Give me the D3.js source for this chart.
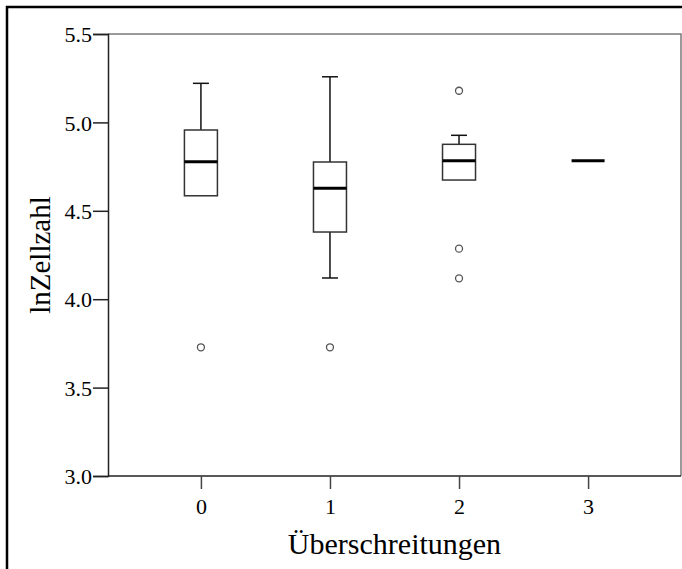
<!DOCTYPE html>
<html>
<head>
<meta charset="utf-8">
<script src="https://cdn.jsdelivr.net/npm/d3@7"></script>
<style>
  body { margin: 0; background: #fff; }
</style>
</head>
<body>
<div id="my_dataviz"></div>
<script>
// categories on the x axis
var groups = ["0", "1", "2", "3"];
// box plot statistics per group
var whiskerLow = [4.585, 4.12, 4.674, 4.783];
var q1 = [4.585, 4.38, 4.674, 4.783];
var median = [4.778, 4.627, 4.783, 4.783];
var q3 = [4.957, 4.776, 4.876, 4.783];
var whiskerHigh = [5.221, 5.258, 4.927, 4.783];
// outliers per group
var outliers = [[3.728], [3.728], [5.179, 4.286, 4.118], []];
var yTicks = [3.0, 3.5, 4.0, 4.5, 5.0, 5.5];

var W = 682, H = 569;
var margin = { left: 108, top: 34, right: 1, bottom: 93 };
var serif = "'Liberation Serif', 'Times New Roman', 'DejaVu Serif', serif";

var svg = d3.select("#my_dataviz").append("svg")
  .attr("width", W).attr("height", H);

// outer frame
svg.append("rect")
  .attr("x", 7).attr("y", 7)
  .attr("width", W).attr("height", H)
  .attr("fill", "none").attr("stroke", "#000").attr("stroke-width", 2.5);

var x = d3.scalePoint().domain(groups)
  .range([margin.left, W - margin.right]).padding(0.72);
var y = d3.scaleLinear().domain([3.0, 5.5])
  .range([H - margin.bottom, margin.top]);

// plot frame (top + right in grey)
svg.append("path")
  .attr("d", "M" + margin.left + "," + y(5.5) + "H" + (W - margin.right) + "V" + y(3.0))
  .attr("fill", "none").attr("stroke", "#7a7a7a").attr("stroke-width", 1.5);

// y axis
var yAxis = svg.append("g")
  .attr("transform", "translate(" + margin.left + ",0)")
  .call(d3.axisLeft(y).tickValues(yTicks).tickFormat(d3.format(".1f")).tickSize(15).tickPadding(1));
yAxis.attr("font-family", null);
yAxis.select(".domain").attr("stroke", "#222").attr("stroke-width", 1.5);
yAxis.selectAll(".tick line").attr("stroke", "#222").attr("stroke-width", 1.5);
yAxis.selectAll("text").style("font-family", serif).style("font-size", "22px").attr("dy", "0.35em");

// x axis
var xAxis = svg.append("g")
  .attr("transform", "translate(0," + y(3.0) + ")")
  .call(d3.axisBottom(x).tickSize(13).tickSizeOuter(0).tickPadding(9));
xAxis.attr("font-family", null);
xAxis.select(".domain").attr("d", "M" + margin.left + ",0H" + (W - margin.right))
  .attr("stroke", "#222").attr("stroke-width", 1.5);
xAxis.selectAll(".tick line").attr("stroke", "#444").attr("stroke-width", 1.5);
xAxis.selectAll("text").style("font-family", serif).style("font-size", "22px");

var boxW = 33, capW = 16;
var data = groups.map(function (g, i) {
  return { g: g, lo: whiskerLow[i], q1: q1[i], med: median[i], q3: q3[i], hi: whiskerHigh[i], out: outliers[i] };
});

var box = svg.selectAll(".box").data(data).enter().append("g").attr("class", "box");

// upper whisker
box.filter(function (d) { return d.hi > d.q3; }).each(function (d) {
  var g = d3.select(this), cx = x(d.g);
  g.append("line").attr("x1", cx).attr("x2", cx).attr("y1", y(d.q3)).attr("y2", y(d.hi))
    .attr("stroke", "#111").attr("stroke-width", 1.5);
  g.append("line").attr("x1", cx - capW / 2).attr("x2", cx + capW / 2).attr("y1", y(d.hi)).attr("y2", y(d.hi))
    .attr("stroke", "#111").attr("stroke-width", 1.5);
});
// lower whisker
box.filter(function (d) { return d.lo < d.q1; }).each(function (d) {
  var g = d3.select(this), cx = x(d.g);
  g.append("line").attr("x1", cx).attr("x2", cx).attr("y1", y(d.q1)).attr("y2", y(d.lo))
    .attr("stroke", "#111").attr("stroke-width", 1.5);
  g.append("line").attr("x1", cx - capW / 2).attr("x2", cx + capW / 2).attr("y1", y(d.lo)).attr("y2", y(d.lo))
    .attr("stroke", "#111").attr("stroke-width", 1.5);
});
// box
box.filter(function (d) { return d.q3 > d.q1; }).append("rect")
  .attr("x", function (d) { return x(d.g) - boxW / 2; })
  .attr("y", function (d) { return y(d.q3); })
  .attr("width", boxW)
  .attr("height", function (d) { return y(d.q1) - y(d.q3); })
  .attr("fill", "#fff").attr("stroke", "#333").attr("stroke-width", 1.5);
// median
box.append("line")
  .attr("x1", function (d) { return x(d.g) - boxW / 2; })
  .attr("x2", function (d) { return x(d.g) + boxW / 2; })
  .attr("y1", function (d) { return y(d.med); })
  .attr("y2", function (d) { return y(d.med); })
  .attr("stroke", "#000").attr("stroke-width", 3);
// outliers
box.selectAll(".out").data(function (d) { return d.out.map(function (v) { return { g: d.g, v: v }; }); })
  .enter().append("circle")
  .attr("cx", function (d) { return x(d.g); })
  .attr("cy", function (d) { return y(d.v); })
  .attr("r", 3.5)
  .attr("fill", "none").attr("stroke", "#555").attr("stroke-width", 1.3);

// axis titles
svg.append("text")
  .attr("x", (margin.left + W - margin.right) / 2)
  .attr("y", 554)
  .attr("text-anchor", "middle")
  .style("font-family", serif).style("font-size", "30px")
  .text("Überschreitungen");

svg.append("text")
  .attr("transform", "translate(50," + (y(3.0) + y(5.5)) / 2 + ") rotate(-90)")
  .attr("text-anchor", "middle")
  .style("font-family", serif).style("font-size", "29px")
  .text("lnZellzahl");
</script>
</body>
</html>
